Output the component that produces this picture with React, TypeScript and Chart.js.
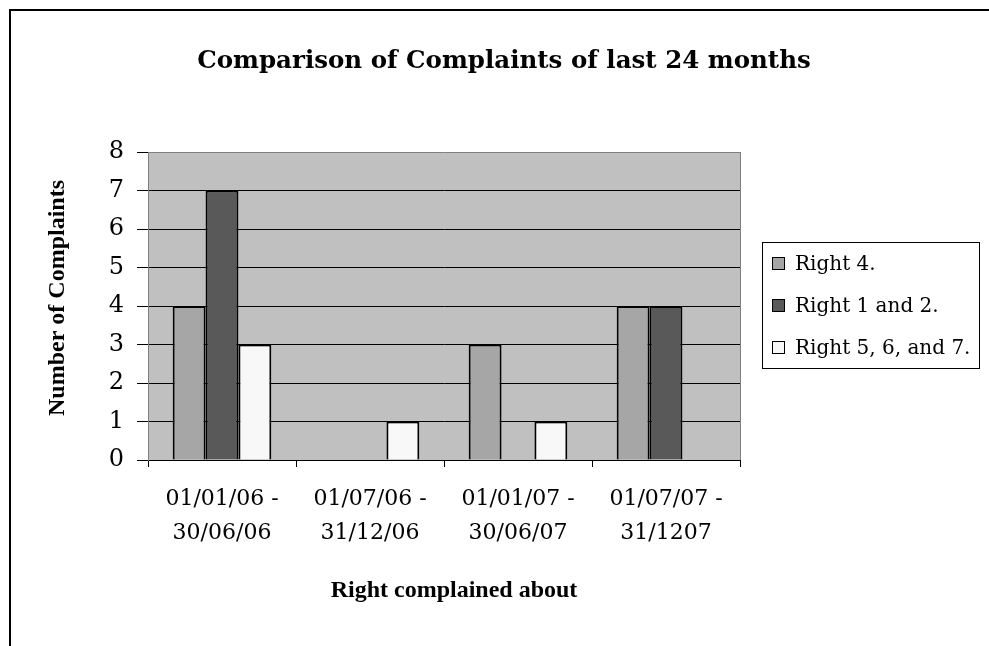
import React, { useEffect, useRef } from 'react';
import { Chart, registerables } from 'chart.js';

Chart.register(...registerables);

// ---- data ----
const categories: string[][] = [
  ['01/01/06 -', '30/06/06'],
  ['01/07/06 -', '31/12/06'],
  ['01/01/07 -', '30/06/07'],
  ['01/07/07 -', '31/1207'],
];
const seriesNames = ['Right 4.', 'Right 1 and 2.', 'Right 5, 6, and 7.'];
const right4 = [4, 0, 3, 4];
const right1and2 = [7, 0, 0, 4];
const right5to7 = [3, 1, 1, 0];
const seriesColors = ['#A6A6A6', '#595959', '#F8F8F8'];
const yMin = 0;
const yMax = 8;
const yStep = 1;
const titleText = 'Comparison of Complaints of last 24 months';
const yTitleText = 'Number of Complaints';
const xTitleText = 'Right complained about';

const PALATINO = '"DejaVu Serif", serif';
const TIMES = '"Liberation Serif", "Times New Roman", serif';

const decorPlugin = {
  id: 'decor',
  beforeDraw(chart: any) {
    const { ctx, chartArea } = chart;
    const { left, top, right, bottom } = chartArea;
    ctx.save();
    ctx.fillStyle = '#C0C0C0';
    ctx.fillRect(left, top, right - left, bottom - top);
    ctx.strokeStyle = '#808080';
    ctx.lineWidth = 1;
    ctx.beginPath();
    ctx.moveTo(Math.round(right) + 0.5, top);
    ctx.lineTo(Math.round(right) + 0.5, bottom);
    ctx.stroke();
    ctx.restore();
  },
  afterDraw(chart: any) {
    const { ctx } = chart;
    ctx.save();
    ctx.fillStyle = '#000';
    // main title
    ctx.font = `bold 24.5px ${PALATINO}`;
    ctx.textAlign = 'center';
    ctx.textBaseline = 'alphabetic';
    ctx.fillText(titleText, 504, 68);
    // x axis title
    ctx.font = `bold 24px ${TIMES}`;
    ctx.fillText(xTitleText, 454, 597);
    // y axis title
    ctx.save();
    ctx.translate(64, 298);
    ctx.rotate(-Math.PI / 2);
    ctx.fillText(yTitleText, 0, 0);
    ctx.restore();

    // legend
    const bx = 762, by = 242, bw = 217, bh = 126;
    ctx.fillStyle = '#fff';
    ctx.fillRect(bx, by, bw, bh);
    ctx.strokeStyle = '#000';
    ctx.lineWidth = 1;
    ctx.strokeRect(bx + 0.5, by + 0.5, bw, bh);
    const rowH = bh / chart.data.datasets.length;
    ctx.font = `20px ${PALATINO}`;
    ctx.textAlign = 'left';
    chart.data.datasets.forEach((ds: any, i: number) => {
      const cy = by + rowH * (i + 0.5);
      ctx.fillStyle = ds.backgroundColor;
      ctx.fillRect(772, Math.round(cy - 6), 13, 13);
      ctx.strokeStyle = '#000';
      ctx.strokeRect(772.5, Math.round(cy - 6) + 0.5, 12, 12);
      ctx.fillStyle = '#000';
      ctx.fillText(ds.label, 795, cy + 7);
    });
    ctx.restore();
  },
};

export default function App() {
  const canvasRef = useRef<HTMLCanvasElement | null>(null);

  useEffect(() => {
    document.body.style.margin = '0';
    const canvas = canvasRef.current;
    if (!canvas) return;
    const values = [right4, right1and2, right5to7];
    const chart = new Chart(canvas, {
      type: 'bar',
      data: {
        labels: categories,
        datasets: values.map((v, i) => ({
          label: seriesNames[i],
          data: v,
          backgroundColor: seriesColors[i],
          borderColor: '#000',
          borderWidth: 2,
          barPercentage: 1,
          categoryPercentage: 3 / 4.5,
          inflateAmount: 0,
        })),
      },
      options: {
        responsive: false,
        animation: false,
        devicePixelRatio: 1,
        layout: { padding: { left: 0, top: 152, right: 249, bottom: 0 } },
        plugins: {
          legend: { display: false },
          title: { display: false },
          tooltip: { enabled: false },
        },
        scales: {
          x: {
            offset: true,
            grid: {
              offset: true,
              drawOnChartArea: false,
              drawTicks: true,
              tickLength: 7,
              color: '#000',
            },
            border: { display: true, color: '#000' },
            ticks: {
              color: '#000',
              font: { family: PALATINO, size: 22, lineHeight: 1.55 },
              padding: 15,
              maxRotation: 0,
              minRotation: 0,
              autoSkip: false,
            },
            afterFit(scale: any) {
              scale.height = 646 - 460;
            },
          },
          y: {
            min: yMin,
            max: yMax,
            ticks: {
              stepSize: yStep,
              color: '#000',
              font: { family: PALATINO, size: 24 },
              padding: 13,
            },
            grid: {
              color: (c: any) => (c.tick && c.tick.value === yMax ? '#808080' : '#000'),
              tickColor: '#000',
              tickLength: 11,
              lineWidth: 1,
            },
            border: { display: true, color: '#808080' },
            afterFit(scale: any) {
              scale.width = 148;
            },
          },
        },
      },
      plugins: [decorPlugin],
    });
    return () => chart.destroy();
  }, []);

  return (
    <div style={{ position: 'absolute', left: 0, top: 0, width: 989, height: 646, background: '#fff', overflow: 'hidden' }}>
      <canvas ref={canvasRef} width={989} height={646} style={{ position: 'absolute', left: 0, top: 0 }} />
      <div
        style={{
          position: 'absolute',
          left: 9,
          top: 9,
          width: 1000,
          height: 700,
          borderLeft: '2px solid #000',
          borderTop: '2px solid #000',
          pointerEvents: 'none',
        }}
      />
    </div>
  );
}
